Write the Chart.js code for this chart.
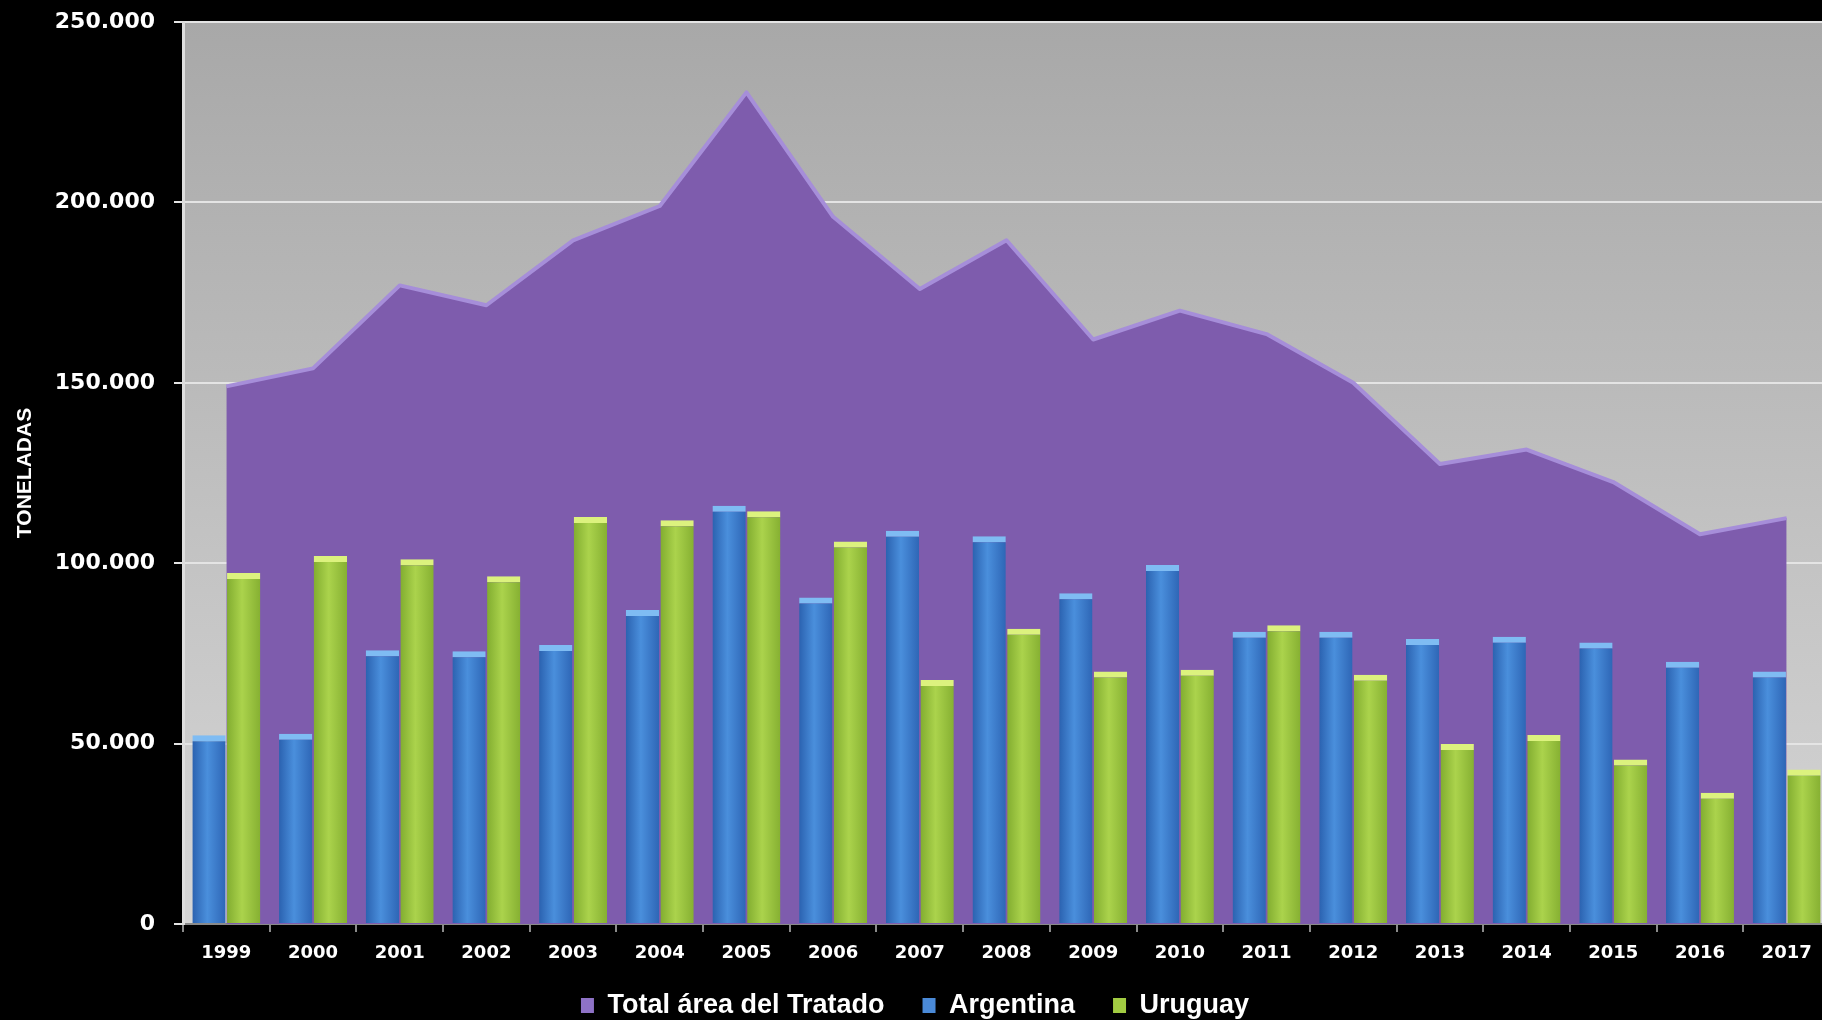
<!DOCTYPE html>
<html>
<head>
<meta charset="utf-8">
<script src="https://cdn.jsdelivr.net/npm/chart.js@4.4.1/dist/chart.umd.min.js"></script>
<style>
  html, body { margin: 0; padding: 0; background: #000; overflow: hidden; }
  canvas { display: block; }
</style>
</head>
<body>
<canvas id="chart" width="1830" height="1029"></canvas>
<script>
// Data (toneladas)
const YEARS = ['1999', '2000', '2001', '2002', '2003', '2004', '2005', '2006', '2007', '2008',
               '2009', '2010', '2011', '2012', '2013', '2014', '2015', '2016', '2017'];
const TOTAL = [149000, 154000, 177000, 171500, 189500, 199000, 230500, 196000, 176000, 189500,
               162000, 170000, 163500, 150000, 127500, 131500, 122500, 108000, 112500];
const ARGENTINA = [52300, 52700, 75900, 75600, 77300, 87000, 115900, 90500, 109000, 107500,
                   91700, 99500, 81000, 81000, 79000, 79600, 78000, 72700, 70000];
const URUGUAY = [97300, 102000, 101100, 96400, 112800, 111900, 114400, 106000, 67600, 81800,
                 70000, 70500, 82800, 69100, 49900, 52400, 45600, 36400, 42800];
const Y_MAX = 250000;
const Y_STEP = 50000;

const CAT_PCT = 0.8;
const BAR_PCT = 0.96;

// thousands separator with a dot, as in the original
function formatTons(v) {
  return String(v).replace(/\B(?=(\d{3})+(?!\d))/g, '.');
}

// horizontal shading so the bars look like rounded columns
function barFill(stops, side) {
  return function(context) {
    const chart = context.chart;
    const xs = chart.scales.x;
    if (context.type !== 'data' || !xs || !chart.chartArea) return stops[1];
    const cat = xs.width / YEARS.length;
    const mid = xs.getPixelForValue(context.dataIndex) + side * cat * CAT_PCT / 4;
    const half = cat * CAT_PCT / 4 * BAR_PCT;
    const g = chart.ctx.createLinearGradient(mid - half, 0, mid + half, 0);
    g.addColorStop(0, stops[0]);
    g.addColorStop(0.45, stops[1]);
    g.addColorStop(1, stops[2]);
    return g;
  };
}

const plotBackground = {
  id: 'plotBackground',
  beforeDraw(chart) {
    const { ctx, chartArea: a } = chart;
    ctx.save();
    ctx.fillStyle = '#000';
    ctx.fillRect(0, 0, chart.width, chart.height);
    const g = ctx.createLinearGradient(0, a.top, 0, a.bottom);
    g.addColorStop(0, '#a8a8a8');
    g.addColorStop(1, '#d6d6d6');
    ctx.fillStyle = g;
    ctx.fillRect(a.left, a.top, a.right - a.left, a.bottom - a.top);
    ctx.restore();
  }
};

const LEGEND_FILL = ['#8e72c6', '#4a8ad8', '#a2cc42'];

Chart.defaults.font.family = 'DejaVu Sans';
Chart.defaults.color = '#ffffff';

new Chart(document.getElementById('chart'), {
  type: 'bar',
  data: {
    labels: YEARS,
    datasets: [
      {
        type: 'line',
        label: 'Total área del Tratado',
        data: TOTAL,
        fill: 'origin',
        backgroundColor: '#7e5cad',
        borderColor: '#a68ed9',
        borderWidth: 4,
        borderJoinStyle: 'round',
        tension: 0,
        pointRadius: 0,
        order: 3
      },
      {
        label: 'Argentina',
        data: ARGENTINA,
        backgroundColor: barFill(['#2b62b0', '#4a8fdc', '#2e66b6'], -1),
        borderColor: '#7fbcf3',
        borderWidth: { top: 6, left: 0, right: 0, bottom: 0 },
        categoryPercentage: CAT_PCT,
        barPercentage: BAR_PCT,
        order: 1
      },
      {
        label: 'Uruguay',
        data: URUGUAY,
        backgroundColor: barFill(['#82ad30', '#abd34c', '#86b032'], 1),
        borderColor: '#dcf27e',
        borderWidth: { top: 6, left: 0, right: 0, bottom: 0 },
        categoryPercentage: CAT_PCT,
        barPercentage: BAR_PCT,
        order: 2
      }
    ]
  },
  options: {
    responsive: false,
    animation: false,
    layout: { padding: { top: 22, left: 0, right: 0, bottom: 0 } },
    plugins: {
      tooltip: { enabled: false },
      legend: {
        position: 'bottom',
        labels: {
          color: '#ffffff',
          font: { family: 'Liberation Sans', size: 27, weight: 'bold' },
          boxWidth: 13,
          boxHeight: 15,
          padding: 38,
          sort: (a, b) => a.datasetIndex - b.datasetIndex,
          generateLabels: (chart) => {
            const items = Chart.defaults.plugins.legend.labels.generateLabels(chart);
            items.forEach(it => {
              it.fillStyle = LEGEND_FILL[it.datasetIndex];
              it.strokeStyle = LEGEND_FILL[it.datasetIndex];
              it.lineWidth = 0;
            });
            return items;
          }
        }
      }
    },
    scales: {
      x: {
        afterFit: (scale) => {
          scale.height = 30;
          // the year labels reach into the legend box; do not clip them
          scale._computeLabelArea = () => null;
        },
        grid: {
          display: true,
          drawOnChartArea: false,
          tickLength: 8,
          color: '#8a8a8a',
          lineWidth: 2
        },
        border: { display: true, color: '#8a8a8a', width: 2 },
        ticks: {
          color: '#ffffff',
          padding: 11,
          font: { size: 18, weight: 'bold' }
        }
      },
      y: {
        min: 0,
        max: Y_MAX,
        afterFit: (scale) => {
          scale.width = 183;
          scale.paddingTop = 0;
          scale.paddingBottom = 0;
        },
        grid: { color: '#e4e4e4', lineWidth: 2, tickLength: 9 },
        border: { display: true, color: '#dedede', width: 3 },
        ticks: {
          stepSize: Y_STEP,
          color: '#ffffff',
          padding: 19,
          font: { size: 22, weight: 'bold' },
          callback: (v) => formatTons(v)
        },
        title: {
          display: true,
          text: 'TONELADAS',
          color: '#ffffff',
          font: { family: 'Liberation Sans', size: 21, weight: 'bold' },
          padding: { top: 13, bottom: 0 }
        }
      }
    }
  },
  plugins: [plotBackground]
});
</script>
</body>
</html>
